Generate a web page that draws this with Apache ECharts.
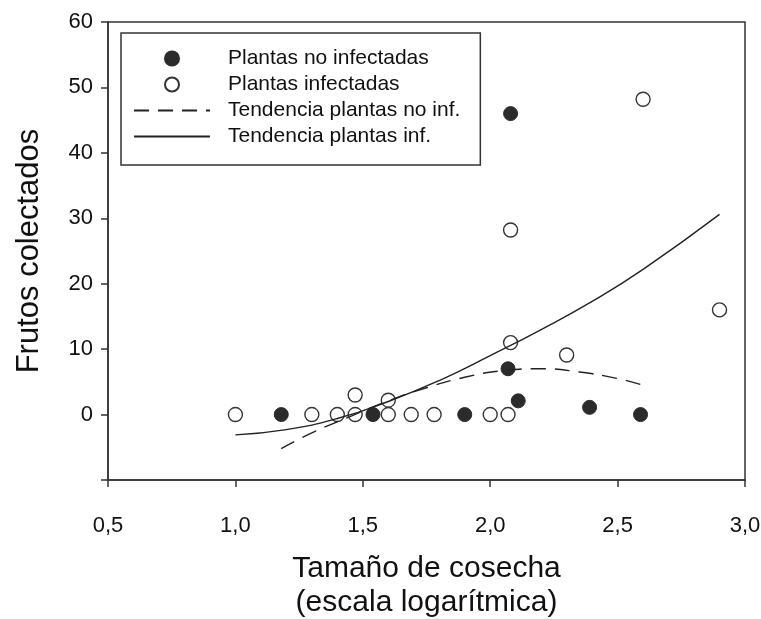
<!DOCTYPE html>
<html>
<head>
<meta charset="utf-8">
<script src="https://cdn.jsdelivr.net/npm/echarts@6/dist/echarts.min.js"></script>
<style>
html,body{margin:0;padding:0;background:#fff;}
#c{width:761px;height:619px;}
</style>
</head>
<body>
<div id="c"></div>
<script>
// Plantas no infectadas (filled circles)
const noInfX = [1.18, 1.54, 1.90, 2.07, 2.11, 2.39, 2.59, 2.08];
const noInfY = [0, 0, 0, 7.0, 2.1, 1.1, 0, 46.0];
// Plantas infectadas (open circles)
const infX = [1.00, 1.30, 1.40, 1.47, 1.47, 1.60, 1.60, 1.69, 1.78, 2.00, 2.07, 2.08, 2.30, 2.08, 2.60, 2.90];
const infY = [0, 0, 0, 3.0, 0, 2.2, 0, 0, 0, 0, 0, 11.0, 9.1, 28.2, 48.2, 16.0];
// Trend lines
const trendNoInfX = [1.18, 1.30, 1.45, 1.60, 1.75, 1.90, 2.05, 2.20, 2.35, 2.50, 2.59];
const trendNoInfY = [-5.2, -2.8, -0.3, 2.1, 4.1, 5.7, 6.7, 7.0, 6.5, 5.5, 4.6];
const trendInfX = [1.0, 1.2, 1.4, 1.6, 1.8, 2.0, 2.2, 2.4, 2.6, 2.9];
const trendInfY = [-3.1, -2.3, -0.6, 2.0, 5.2, 9.0, 13.0, 17.3, 22.2, 30.6];
// Axes
const xTicks = [0.5, 1.0, 1.5, 2.0, 2.5, 3.0];
const yTicks = [-10, 0, 10, 20, 30, 40, 50, 60];

const zip = (a, b) => a.map((v, i) => [v, b[i]]);
const FONT = '"Liberation Sans", Arial, sans-serif';

const chart = echarts.init(document.getElementById('c'), null, {renderer: 'canvas'});
chart.setOption({
  backgroundColor: '#fff',
  animation: false,
  grid: {left: 108, right: 16, top: 22, bottom: 139, outerBoundsMode: 'none', containLabel: false,
    show: true, borderColor: '#333', borderWidth: 1.5, backgroundColor: 'transparent'},
  legend: {
    orient: 'vertical', left: 121, top: 33,
    padding: [15, 20, 18, 12],
    itemWidth: 76, itemHeight: 14, itemGap: 5,
    borderColor: '#333', borderWidth: 1.5, borderRadius: 0,
    backgroundColor: '#fff',
    textStyle: {fontSize: 21, fontFamily: FONT, color: '#111', padding: [0, 0, 0, 13]},
    data: [
      {name: 'Plantas no infectadas'},
      {name: 'Plantas infectadas'},
      {name: 'Tendencia plantas no inf.', itemStyle: {opacity: 0}},
      {name: 'Tendencia plantas inf.', itemStyle: {opacity: 0}}
    ]
  },
  xAxis: {
    type: 'value', min: xTicks[0], max: xTicks[xTicks.length - 1], interval: 0.5,
    name: 'Tamaño de cosecha\n(escala logarítmica)', nameLocation: 'middle', nameGap: 72,
    nameTextStyle: {fontSize: 30, fontFamily: FONT, color: '#111', lineHeight: 34},
    axisLine: {onZero: false, lineStyle: {color: '#333', width: 1.5}},
    axisTick: {length: 7, lineStyle: {color: '#333', width: 1.5}},
    axisLabel: {margin: 35, fontSize: 22, fontFamily: FONT, color: '#111',
      formatter: v => v.toFixed(1).replace('.', ',')},
    splitLine: {show: false}
  },
  yAxis: {
    type: 'value', min: yTicks[0], max: yTicks[yTicks.length - 1], interval: 10,
    name: 'Frutos colectados', nameLocation: 'middle', nameGap: 63, nameRotate: 90,
    nameTextStyle: {fontSize: 31, fontFamily: FONT, color: '#111'},
    axisLine: {onZero: false, lineStyle: {color: '#333', width: 1.5}},
    axisTick: {length: 7, lineStyle: {color: '#333', width: 1.5}},
    axisLabel: {margin: 15, fontSize: 22, fontFamily: FONT, color: '#111',
      formatter: v => v === -10 ? '' : String(v)},
    splitLine: {show: false}
  },
  series: [
    {name: 'Plantas no infectadas', type: 'scatter', symbol: 'circle', symbolSize: 14, z: 3,
      itemStyle: {color: '#2b2b2b', borderColor: '#2b2b2b', borderWidth: 1, opacity: 1},
      data: zip(noInfX, noInfY)},
    {name: 'Plantas infectadas', type: 'scatter', symbol: 'circle', symbolSize: 14, z: 3,
      itemStyle: {color: 'rgba(255,255,255,0)', borderColor: '#333', borderWidth: 1.4, opacity: 1},
      data: zip(infX, infY)},
    {name: 'Tendencia plantas no inf.', type: 'line', smooth: true, symbol: 'none', showSymbol: false, z: 4,
      lineStyle: {color: '#222', width: 1.4, type: [15, 9]},
      itemStyle: {color: '#222'},
      data: zip(trendNoInfX, trendNoInfY)},
    {name: 'Tendencia plantas inf.', type: 'line', smooth: true, symbol: 'none', showSymbol: false, z: 4,
      lineStyle: {color: '#222', width: 1.4, type: 'solid'},
      itemStyle: {color: '#222'},
      data: zip(trendInfX, trendInfY)}
  ]
});
</script>
</body>
</html>
